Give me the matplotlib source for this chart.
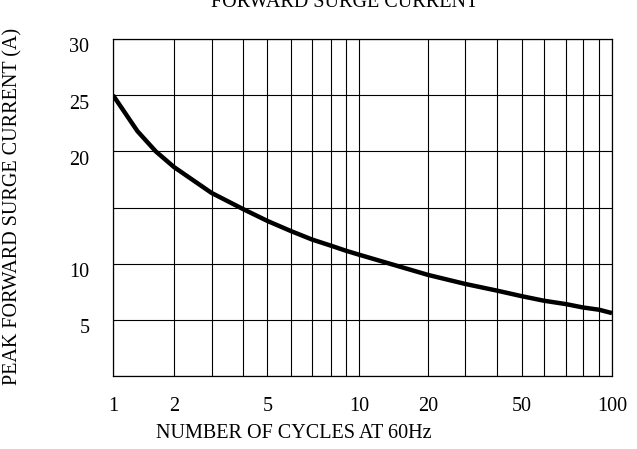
import numpy as np
import matplotlib
matplotlib.use("Agg")
import matplotlib.pyplot as plt
from matplotlib.transforms import ScaledTranslation

# curve
cycles = [1, 1.2, 1.4, 1.7, 2, 3, 4, 5, 6, 7, 8, 9, 10, 20, 30, 40, 50, 60, 70, 80, 90, 100]
current = [25.0, 23.4, 21.8, 20.0, 18.6, 16.3, 14.85, 13.8, 12.9, 12.15, 11.6, 11.15, 10.8,
           9.0, 8.2, 7.6, 7.1, 6.7, 6.4, 6.1, 5.9, 5.6]

grid_x = [1, 2, 3, 4, 5, 6, 7, 8, 9, 10, 20, 30, 40, 50, 60, 70, 80, 90, 100]
xtick_vals = [1, 2, 5, 10, 20, 50, 100]
ytick_vals = [5, 10, 20, 25, 30]
grid_y = [0, 5, 10, 15, 20, 25, 30]

# the printed "log" axis is hand-drawn and uneven; mimic its grid spacing
SCALE_POS = [113, 174, 211.5, 243.3, 267.5, 291, 312, 331, 346, 359,
             428, 465, 497, 522, 544, 566, 583, 599, 612]


def fwd(v):
    return np.interp(v, grid_x, SCALE_POS)


def inv(p):
    return np.interp(p, SCALE_POS, grid_x)


W, H = 637, 449
plt.rcParams["font.family"] = ["Liberation Serif", "DejaVu Serif"]
FS = 14.5

fig = plt.figure(figsize=(W / 100, H / 100), dpi=100)
ax = fig.add_axes([113 / W, (H - 376) / H, (612 - 113) / W, (376 - 39) / H])

ax.set_xscale("function", functions=(fwd, inv))
ax.set_xlim(1, 100)
ax.set_ylim(0, 30)

for v in grid_x:
    ax.axvline(v, color="black", lw=0.8, zorder=1)
for v in grid_y:
    ax.axhline(v, color="black", lw=0.8, zorder=1)

ax.plot(cycles, current, color="black", lw=3.2, solid_capstyle="butt",
        solid_joinstyle="round", zorder=3)

ax.set_xticks(xtick_vals)
ax.set_xticklabels([str(v) for v in xtick_vals], fontsize=FS)
ax.set_xticks([], minor=True)
ax.set_yticks(ytick_vals)
ax.set_yticklabels([str(v) for v in ytick_vals], fontsize=FS)
ax.tick_params(axis="both", length=0)
ax.tick_params(axis="x", pad=15)
ax.tick_params(axis="y", pad=17)

# datasheet y labels sit a little below their grid lines
shift = ScaledTranslation(0, -6.5 / 100, fig.dpi_scale_trans)
for lbl in ax.get_yticklabels():
    lbl.set_transform(lbl.get_transform() + shift)

for sp in ax.spines.values():
    sp.set_linewidth(0.9)
    sp.set_color("black")

fig.text(345 / W, (H - 7) / H, "FORWARD SURGE CURRENT", ha="center", va="baseline",
         fontsize=FS)
fig.text(294 / W, (H - 433) / H, "NUMBER OF CYCLES AT 60Hz", ha="center", va="center",
         fontsize=FS)
fig.text(13 / W, (H - 385) / H, "PEAK FORWARD SURGE CURRENT (A)", ha="center",
         va="bottom", rotation=90, fontsize=FS)

fig.savefig("out.png", dpi=100, facecolor="white")
